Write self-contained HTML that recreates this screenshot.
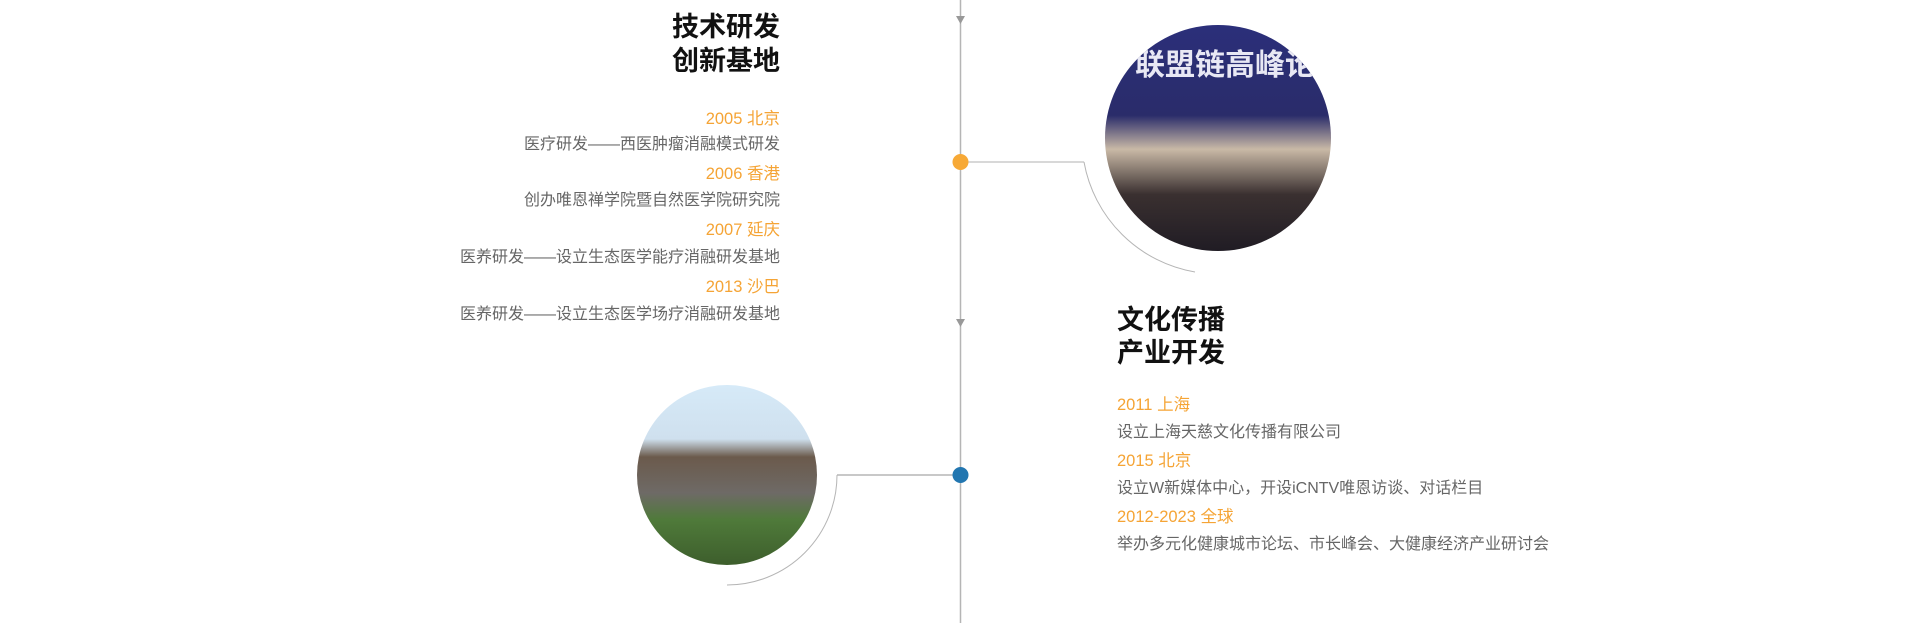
<!DOCTYPE html>
<html><head><meta charset="utf-8"><style>
body{margin:0;width:1921px;height:623px;background:#fff;position:relative;overflow:hidden;font-family:"Liberation Sans","Noto Sans CJK SC",sans-serif}
.t{position:absolute;white-space:nowrap}
.h{font-size:27px;font-weight:bold;color:#111;line-height:34px}
.y{font-size:16.5px;color:#f5a435;line-height:28px}
.d{font-size:16px;color:#666;line-height:28px}
.r{right:1141px;text-align:right}
.l{left:1117px}
</style></head><body>
<svg width="1921" height="623" style="position:absolute;left:0;top:0">
<defs>
<linearGradient id="g1" x1="0" y1="0" x2="0" y2="1"><stop offset="0" stop-color="#2b2f7a"/><stop offset="0.4" stop-color="#2a2c6a"/><stop offset="0.55" stop-color="#c9b9a6"/><stop offset="0.75" stop-color="#3a3030"/><stop offset="1" stop-color="#201c24"/></linearGradient>
<linearGradient id="g2" x1="0" y1="0" x2="0" y2="1"><stop offset="0" stop-color="#d6eaf8"/><stop offset="0.3" stop-color="#cfe0ee"/><stop offset="0.4" stop-color="#6b5a4c"/><stop offset="0.6" stop-color="#6e6a66"/><stop offset="0.75" stop-color="#4f7a3a"/><stop offset="1" stop-color="#3d5e2c"/></linearGradient>
<clipPath id="c1"><circle cx="1218" cy="138" r="113"/></clipPath>
</defs>
<line x1="960.5" y1="0" x2="960.5" y2="623" stroke="#b5b5b5" stroke-width="1.5"/>
<polygon points="956,16 965,16 960.5,24" fill="#999"/>
<polygon points="956,319 965,319 960.5,327" fill="#999"/>
<line x1="960" y1="162" x2="1084" y2="162" stroke="#ccc" stroke-width="1.5"/>
<path d="M1084,162 A136,136 0 0 0 1195,272" fill="none" stroke="#b5b5b5" stroke-width="1"/>
<circle cx="960.5" cy="162" r="8" fill="#f7a936"/>
<circle cx="1218" cy="138" r="113" fill="url(#g1)"/>
<g clip-path="url(#c1)"><text x="1135" y="75" font-size="30" font-weight="bold" fill="#e8e8f4" font-family="Noto Sans CJK SC">联盟链高峰论坛</text></g>
<line x1="960" y1="475" x2="837" y2="475" stroke="#b5b5b5" stroke-width="1.5"/>
<path d="M837,475 A110,110 0 0 1 727,585" fill="none" stroke="#b5b5b5" stroke-width="1"/>
<circle cx="960.5" cy="475" r="8" fill="#2276b0"/>
<circle cx="727" cy="475" r="90" fill="url(#g2)"/>
</svg>
<div class="t h r" style="top:10px">技术研发</div>
<div class="t h r" style="top:44px">创新基地</div>
<div class="t y r" style="top:105px">2005 北京</div>
<div class="t d r" style="top:131px">医疗研发——西医肿瘤消融模式研发</div>
<div class="t y r" style="top:160px">2006 香港</div>
<div class="t d r" style="top:187px">创办唯恩禅学院暨自然医学院研究院</div>
<div class="t y r" style="top:216px">2007 延庆</div>
<div class="t d r" style="top:244px">医养研发——设立生态医学能疗消融研发基地</div>
<div class="t y r" style="top:273px">2013 沙巴</div>
<div class="t d r" style="top:301px">医养研发——设立生态医学场疗消融研发基地</div>
<div class="t h l" style="top:303px">文化传播</div>
<div class="t h l" style="top:336px">产业开发</div>
<div class="t y l" style="top:391px">2011 上海</div>
<div class="t d l" style="top:419px">设立上海天慈文化传播有限公司</div>
<div class="t y l" style="top:447px">2015 北京</div>
<div class="t d l" style="top:475px">设立W新媒体中心，开设iCNTV唯恩访谈、对话栏目</div>
<div class="t y l" style="top:503px">2012-2023 全球</div>
<div class="t d l" style="top:531px">举办多元化健康城市论坛、市长峰会、大健康经济产业研讨会</div>
</body></html>
